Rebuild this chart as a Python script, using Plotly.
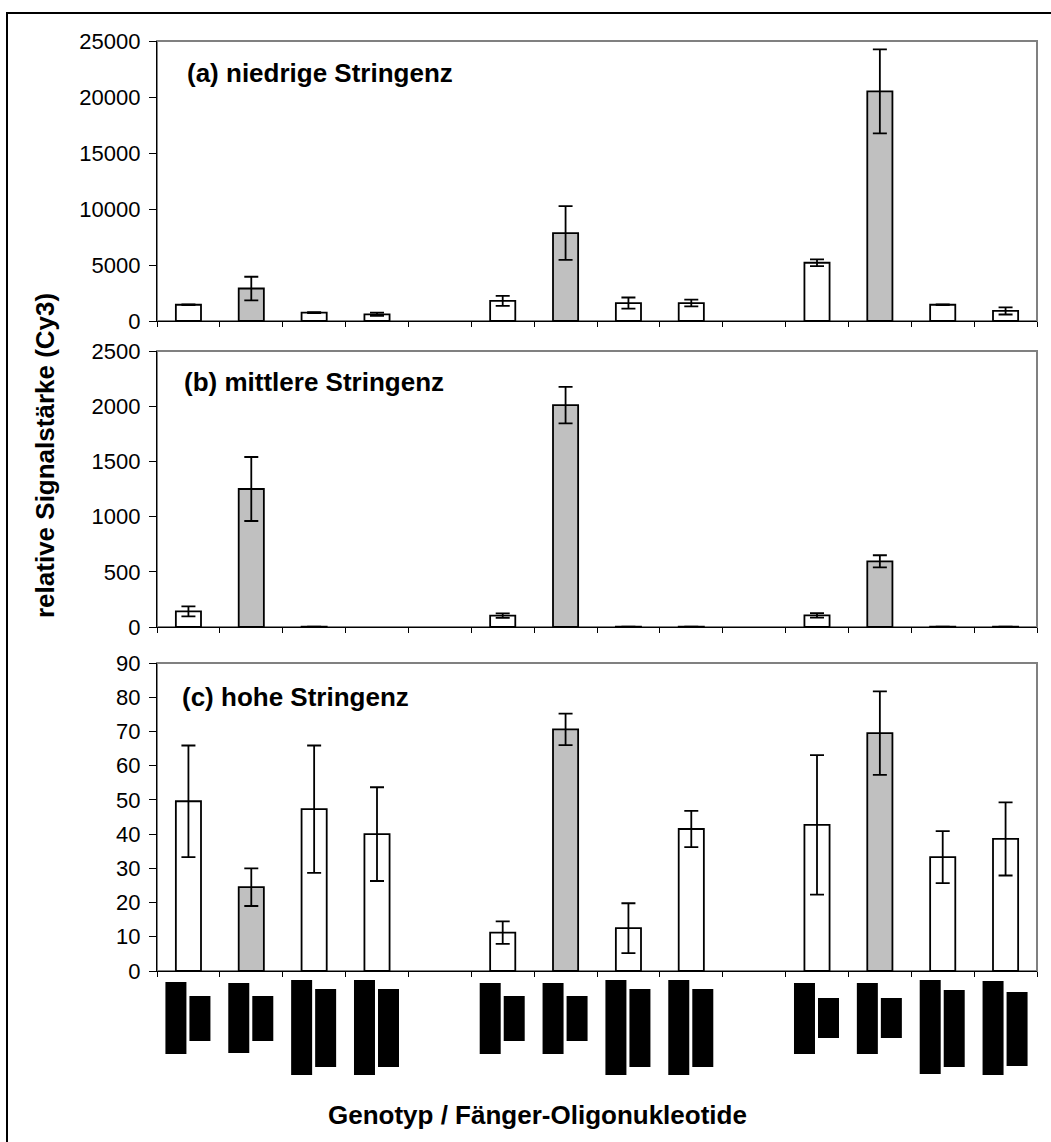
import plotly.graph_objects as go

W, H = 1051, 1142

# ---------------- data ----------------
slots = list(range(1, 15))  # 14 category slots, slots 5 and 10 are empty gaps
gray_slots = [2, 7, 12]     # perfect-match capture oligos (gray bars)

vals_a = [1450, 2900, 750, 600, None, 1800, 7850, 1600, 1600, None, 5200, 20500, 1450, 900]
err_a  = [40, 1050, 50, 150, None, 450, 2400, 500, 300, None, 300, 3750, 30, 320]

vals_b = [142, 1250, 3, None, None, 103, 2010, 3, 3, None, 105, 595, 3, 3]
err_b  = [45, 290, 0, None, None, 20, 165, 0, 0, None, 20, 55, 0, 0]

vals_c = [49.6, 24.5, 47.3, 40.0, None, 11.2, 70.6, 12.5, 41.5, None, 42.7, 69.5, 33.3, 38.6]
err_c  = [16.3, 5.5, 18.6, 13.7, None, 3.3, 4.6, 7.3, 5.3, None, 20.4, 12.2, 7.6, 10.7]

# genotype symbols below the x axis (two black blocks per slot; top/bottom in symbol units)
glyph_left_top     = [7, 8, 5, 5, None, 8, 8, 5, 5, None, 8, 8, 5, 6]
glyph_left_bottom  = [79, 78, 100, 100, None, 79, 79, 100, 100, None, 79, 79, 99, 100]
glyph_right_top    = [21, 21, 14, 14, None, 21, 21, 14, 14, None, 23, 23, 15, 17]
glyph_right_bottom = [66, 66, 92, 92, None, 66, 66, 92, 92, None, 63, 63, 92, 91]

panel_titles = ["(a) niedrige Stringenz", "(b) mittlere Stringenz", "(c) hohe Stringenz"]
y_ranges = [(0, 25000), (0, 2500), (0, 90)]
y_dticks = [5000, 500, 10]
y_title = "relative Signalstärke (Cy3)"
x_title = "Genotyp / Fänger-Oligonukleotide"

# ---------------- layout helpers ----------------
def px(x):
    return x / W

def py(y):
    return 1 - y / H

FONT = "Liberation Sans, Arial, sans-serif"
x_left, x_right = 157, 1037
panels_px = [(41, 321), (351, 627), (663, 971)]
glyph_px = (975, 1080)

fig = go.Figure()

fill = ["#c0c0c0" if s in gray_slots else "#ffffff" for s in slots]
for k, (vals, errs) in enumerate([(vals_a, err_a), (vals_b, err_b), (vals_c, err_c)]):
    ax = "" if k == 0 else str(k + 1)
    fig.add_trace(go.Bar(
        x=slots, y=vals, width=0.4,
        marker=dict(color=fill, line=dict(color="black", width=1.8)),
        error_y=dict(type="data", array=errs, visible=True, color="black",
                     thickness=1.8, width=7),
        xaxis="x" + ax, yaxis="y" + ax, showlegend=False, hoverinfo="skip"))

# glyph row
gl_h = [None if t is None else b - t for t, b in zip(glyph_left_top, glyph_left_bottom)]
gr_h = [None if t is None else b - t for t, b in zip(glyph_right_top, glyph_right_bottom)]
fig.add_trace(go.Bar(x=slots, y=gl_h, base=glyph_left_top, width=0.334, offset=-0.366,
                     marker=dict(color="black", line=dict(width=0)),
                     xaxis="x4", yaxis="y4", showlegend=False, hoverinfo="skip"))
fig.add_trace(go.Bar(x=slots, y=gr_h, base=glyph_right_top, width=0.334, offset=0.016,
                     marker=dict(color="black", line=dict(width=0)),
                     xaxis="x4", yaxis="y4", showlegend=False, hoverinfo="skip"))

layout = dict(
    width=W, height=H,
    margin=dict(l=0, r=0, t=0, b=0),
    paper_bgcolor="white", plot_bgcolor="white",
    barmode="overlay",
    font=dict(family=FONT, color="black"),
    showlegend=False,
)

shapes = []
annotations = []
for k, (top, bot) in enumerate(panels_px):
    ax = "" if k == 0 else str(k + 1)
    layout["xaxis" + ax] = dict(
        domain=[px(x_left), px(x_right)], range=[0.5, 14.5],
        anchor="y" + ax, showline=True, linecolor="black", linewidth=1.3,
        tickmode="array", tickvals=[i + 0.5 for i in range(15)],
        ticks="outside", ticklen=5, tickwidth=1, tickcolor="black",
        showticklabels=False, showgrid=False, zeroline=False, fixedrange=True)
    layout["yaxis" + ax] = dict(
        domain=[py(bot), py(top)], range=list(y_ranges[k]),
        anchor="x" + ax, showline=True, linecolor="black", linewidth=1.3,
        dtick=y_dticks[k], tick0=0, tickformat="d",
        ticks="outside", ticklen=7, tickwidth=1,
        tickcolor="black", tickfont=dict(size=22, family=FONT, color="black"),
        ticklabelstandoff=4,
        showgrid=False, zeroline=False, fixedrange=True, automargin=False)
    # gray frame of plot area (top / right)
    shapes.append(dict(type="rect", xref="x" + ax + " domain", yref="y" + ax + " domain",
                       x0=0, x1=1, y0=0, y1=1, line=dict(color="#808080", width=2),
                       layer="below"))

layout["xaxis4"] = dict(domain=[px(x_left), px(x_right)], range=[0.5, 14.5], anchor="y4",
                        visible=False, fixedrange=True)
layout["yaxis4"] = dict(domain=[py(glyph_px[1]), py(glyph_px[0])], range=[105, 0],
                        anchor="x4", visible=False, fixedrange=True)

title_pos = [(185, 73), (182, 382), (180, 697)]
for (tx, ty), t in zip(title_pos, panel_titles):
    annotations.append(dict(text="<b>%s</b>" % t, xref="paper", yref="paper",
                            x=px(tx), y=py(ty), xanchor="left", yanchor="middle",
                            showarrow=False, font=dict(size=26, family=FONT, color="black")))

annotations.append(dict(text="<b>%s</b>" % y_title, xref="paper", yref="paper",
                        x=px(45), y=py(456), xanchor="center", yanchor="middle",
                        textangle=-90, showarrow=False,
                        font=dict(size=26, family=FONT, color="black")))
annotations.append(dict(text="<b>%s</b>" % x_title, xref="paper", yref="paper",
                        x=px(537), y=py(1115), xanchor="center", yanchor="middle",
                        showarrow=False, font=dict(size=26, family=FONT, color="black")))

# outer frame (top and left edges visible, extends past the image)
shapes.append(dict(type="rect", xref="paper", yref="paper",
                   x0=px(7), x1=px(1060), y0=py(1160), y1=py(13),
                   line=dict(color="black", width=2)))

layout["shapes"] = shapes
layout["annotations"] = annotations
fig.update_layout(**layout)

fig.write_html("out.html")
